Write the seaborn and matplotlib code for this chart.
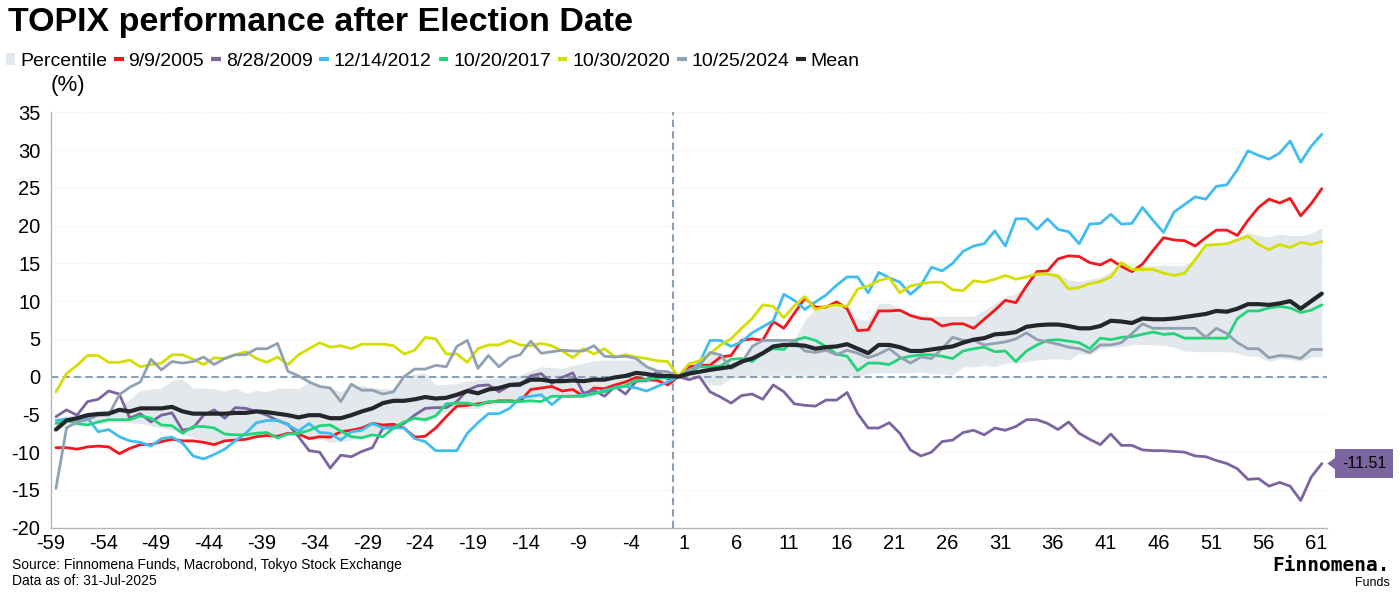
import numpy as np
import pandas as pd
import matplotlib
matplotlib.use('Agg')
import matplotlib.pyplot as plt
from matplotlib.lines import Line2D
from matplotlib.patches import Patch
import seaborn as sns

# 交易日（相對選舉日）
days = list(range(-59, 62))

# 各次選舉後 TOPIX 表現 (%)
s2005 = [-9.4, -9.4, -9.6, -9.3, -9.2, -9.3, -10.2, -9.5, -9.0, -9.0,
         -8.6, -8.3, -8.5, -8.5, -8.7, -9.0, -8.5, -8.4, -8.3, -7.95,
         -7.8, -7.9, -7.5, -7.6, -8.2, -7.95, -8.0, -7.3, -7.1,
         -6.8, -6.2, -6.4, -6.3, -6.8, -8.0, -7.9, -6.8, -5.3, -3.9,
         -3.8, -3.6, -3.4, -3.2, -3.2, -3.3, -1.7, -1.5, -1.3, -1.9,
         -1.7, -2.6, -1.5, -1.6, -1.1, -0.7, -0.1, -0.4, -0.5, -1.1,
         0.0,
         1.3, 1.5, 1.5, 2.6, 2.8, 4.8, 5.0, 4.8, 7.3, 6.4,
         8.4, 10.4, 9.2, 9.2, 9.9, 9.0, 6.1, 6.2, 8.7, 8.7,
         8.8, 8.1, 7.7, 7.6, 6.7, 7.0, 7.0, 6.4, 7.6, 8.8,
         10.1, 9.8, 12.0, 13.9, 14.0, 15.6, 16.0, 15.9, 15.1, 14.8,
         15.5, 14.6, 13.9, 14.9, 16.7, 18.4, 18.1, 18.0, 17.3, 18.4,
         19.4, 19.4, 18.7, 20.7, 22.4, 23.5, 23.0, 23.6, 21.3, 22.9, 24.9]

s2009 = [-5.3, -4.4, -5.1, -3.3, -3.0, -1.9, -2.3, -5.5, -4.9, -6.0,
         -5.1, -4.8, -7.1, -6.8, -5.1, -4.4, -5.5, -4.1, -4.2, -4.6,
         -5.1, -5.8, -6.3, -7.95, -9.8, -10.0, -12.1, -10.4, -10.6,
         -9.9, -9.4, -6.8, -6.6, -6.2, -5.1, -4.2, -4.1, -4.1, -3.3,
         -1.8, -1.2, -1.1, -2.0, -1.2, -1.2, 0.1, 0.4, -0.9, -0.1,
         0.5, -2.2, -1.8, -2.6, -1.3, -2.3, -0.6, -0.5, 0.65, -0.3,
         0.0,
         -0.4, 0.0, -2.0, -2.7, -3.5, -2.5, -2.3, -3.0, -1.1, -2.0,
         -3.6, -3.8, -3.9, -3.1, -3.1, -2.1, -4.9, -6.8, -6.8, -6.1,
         -7.5, -9.7, -10.5, -10.0, -8.6, -8.4, -7.4, -7.1, -7.7, -6.8,
         -7.1, -6.6, -5.7, -5.7, -6.2, -7.0, -6.0, -7.5, -8.3, -9.0,
         -7.6, -9.1, -9.1, -9.7, -9.8, -9.8, -9.9, -10.0, -10.5, -10.6,
         -11.1, -11.5, -12.2, -13.6, -13.5, -14.5, -14.0, -14.5, -16.4, -13.3, -11.51]

s2012 = [-5.8, -5.6, -5.7, -5.5, -7.3, -7.0, -7.95, -8.5, -8.7, -9.2,
         -8.2, -8.0, -8.8, -10.5, -10.9, -10.3, -9.6, -8.5, -7.5, -6.1,
         -5.8, -5.8, -6.4, -7.2, -6.2, -7.4, -7.5, -8.4, -7.3,
         -7.1, -6.2, -6.8, -6.8, -6.8, -8.2, -8.6, -9.8, -9.8, -9.8,
         -7.5, -6.1, -4.9, -4.9, -4.2, -2.8, -2.6, -2.4, -3.7, -2.6,
         -2.6, -2.4, -2.3, -1.8, -1.5, -1.3, -1.5, -1.9, -1.3, -0.7,
         0.0,
         0.6, 1.8, 4.8, 4.8, 4.0, 4.6, 5.8, 6.6, 7.4, 10.9,
         10.1, 8.9, 9.9, 10.8, 12.1, 13.2, 13.2, 11.1, 13.8, 13.1,
         12.5, 10.9, 12.1, 14.5, 14.0, 15.0, 16.6, 17.3, 17.6, 19.3,
         17.3, 20.9, 20.9, 19.5, 20.9, 19.5, 19.2, 17.6, 20.2, 20.3,
         21.5, 20.2, 20.3, 22.4, 20.7, 19.1, 21.8, 22.8, 23.8, 23.5,
         25.2, 25.4, 27.4, 29.9, 29.3, 28.8, 29.6, 31.2, 28.4, 30.5, 32.1]

s2017 = [-6.2, -5.8, -6.2, -6.4, -6.0, -5.7, -5.7, -5.7, -5.2, -5.5,
         -6.4, -6.5, -7.5, -6.6, -6.6, -6.8, -7.6, -7.7, -7.7, -7.5,
         -7.4, -8.1, -7.6, -7.5, -7.1, -6.5, -6.4, -7.2, -7.95,
         -8.1, -7.7, -7.95, -6.8, -6.0, -5.5, -5.7, -5.2, -3.6, -3.5,
         -3.5, -3.8, -3.3, -3.3, -3.3, -3.3, -3.2, -3.3, -2.6, -2.6,
         -2.6, -2.6, -2.2, -2.0, -1.4, -1.2, -0.5, -0.4, -0.2, -0.1,
         0.0,
         0.6, 1.3, 1.3, 1.4, 2.3, 2.4, 2.0, 3.1, 3.7, 3.6,
         4.8, 5.2, 4.8, 4.0, 3.0, 2.7, 0.8, 1.8, 1.8, 1.6,
         2.4, 2.7, 2.9, 2.9, 2.7, 2.4, 3.4, 3.7, 3.9, 3.3,
         3.4, 2.0, 3.4, 4.2, 4.8, 4.9, 4.7, 4.5, 3.7, 5.1,
         4.9, 5.2, 5.3, 5.6, 5.9, 5.6, 5.7, 5.1, 5.1, 5.1,
         5.1, 5.1, 7.7, 8.7, 8.7, 9.1, 9.3, 9.1, 8.5, 8.8, 9.5]

s2020 = [-2.0, 0.4, 1.5, 2.8, 2.8, 1.9, 1.9, 2.2, 1.3, 1.6,
         1.8, 2.9, 2.9, 2.3, 1.6, 2.5, 2.4, 2.9, 3.3, 2.4,
         1.9, 2.6, 1.6, 2.9, 3.7, 4.5, 3.9, 4.1, 3.7,
         4.3, 4.3, 4.3, 4.1, 3.0, 3.5, 5.2, 5.0, 3.0, 3.0,
         1.9, 3.7, 4.2, 4.2, 4.8, 4.2, 4.1, 4.4, 4.1, 3.4,
         2.5, 3.7, 3.0, 3.7, 2.6, 2.9, 2.6, 2.4, 2.1, 2.0,
         0.0,
         1.7, 2.1, 3.0, 4.2, 5.0, 6.4, 7.7, 9.5, 9.3, 7.8,
         9.4, 10.6, 8.9, 9.3, 9.5, 9.3, 11.6, 12.0, 12.7, 13.1,
         11.1, 12.0, 12.3, 12.5, 12.5, 11.5, 11.4, 12.7, 12.5, 12.9,
         13.4, 12.9, 13.2, 13.6, 13.6, 13.3, 11.6, 11.8, 12.3, 12.6,
         13.2, 15.1, 14.2, 14.2, 14.2, 13.7, 13.4, 13.7, 15.5, 17.4,
         17.5, 17.6, 18.1, 18.6, 17.5, 16.8, 17.5, 17.1, 17.8, 17.5, 17.9]

s2024 = [-14.8, -6.8, -6.0, -5.7, -5.1, -5.1, -2.4, -1.4, -0.7, 2.3,
         0.9, 2.0, 1.8, 2.0, 2.6, 1.6, 2.4, 2.9, 2.9, 3.7,
         3.7, 4.4, 0.7, 0.1, -0.7, -1.3, -1.5, -3.3, -1.0,
         -1.8, -1.8, -2.3, -2.0, 0.0, 1.0, 1.0, 1.5, 1.3, 4.0,
         4.8, 1.1, 2.8, 1.3, 2.5, 2.9, 4.7, 3.1, 3.3, 3.5,
         3.4, 3.4, 4.1, 2.7, 2.6, 2.7, 2.4, 1.3, 0.75, 0.65,
         0.0,
         0.9, 1.4, 3.2, 2.9, 1.1, 1.8, 4.0, 4.8, 4.8, 4.8,
         4.8, 3.4, 3.2, 3.5, 2.9, 3.5, 3.1, 2.5, 3.0, 3.7,
         2.6, 1.8, 2.6, 2.4, 3.7, 5.2, 4.8, 4.8, 4.2, 4.4,
         4.6, 5.0, 5.8, 4.9, 4.6, 4.3, 3.9, 3.7, 3.2, 4.2,
         4.2, 4.5, 5.7, 7.0, 6.4, 6.4, 6.4, 6.4, 6.4, 5.2,
         6.4, 5.7, 4.5, 3.7, 3.7, 2.5, 2.8, 2.7, 2.4, 3.6, 3.6]

mean = [-7.0, -5.8, -5.5, -5.1, -4.95, -4.9, -4.4, -4.6, -4.2, -4.2,
        -4.2, -4.0, -4.6, -4.9, -4.9, -4.9, -4.9, -4.8, -4.8, -4.6,
        -4.7, -4.9, -5.1, -5.4, -5.1, -5.1, -5.5, -5.5, -5.1,
        -4.6, -4.2, -3.5, -3.2, -3.2, -3.0, -2.7, -2.9, -2.8, -2.4,
        -1.9, -2.2, -1.7, -1.5, -1.1, -1.0, -0.4, -0.4, -0.6, -0.6,
        -0.5, -0.6, -0.4, -0.4, -0.1, 0.1, 0.5, 0.35, 0.1, 0.1,
        0.0,
        0.4, 0.65, 0.9, 1.1, 1.3, 2.0, 2.4, 3.1, 4.0, 4.2,
        4.2, 4.1, 3.7, 3.9, 4.0, 4.3, 3.7, 3.1, 4.2, 4.2,
        3.9, 3.4, 3.4, 3.6, 3.8, 4.0, 4.5, 4.9, 5.1, 5.6,
        5.7, 5.9, 6.6, 6.8, 6.9, 6.9, 6.7, 6.4, 6.4, 6.7,
        7.4, 7.3, 7.1, 7.7, 7.6, 7.6, 7.7, 7.9, 8.1, 8.3,
        8.7, 8.6, 9.0, 9.6, 9.6, 9.5, 9.7, 10.0, 9.0, 10.0, 11.0]

# Percentile 區間 (上緣 / 下緣)
pct_hi = [-5.5, -5.2, -5.0, -4.7, -4.5, -4.3, -4.0, -3.0, -1.8, -1.6,
          -1.5, -0.5, -0.3, -1.5, -1.5, -1.6, -1.9, -1.5, -2.2, -1.8,
          -2.0, -1.5, -1.5, -1.6, -0.7, -1.0, -1.5, -2.0, -1.2,
          -1.2, -1.4, -1.6, -1.6, -0.3, 0.3, 0.5, -1.1, -1.0, -0.9,
          -0.6, -0.4, -0.3, -0.2, 0.0, 0.2, 0.8, 1.3, 1.2, 1.1,
          1.5, 1.8, 2.1, 2.2, 2.2, 2.2, 2.2, 1.5, 0.9, 0.4,
          0.0,
          0.7, 0.9, 2.9, 3.2, 2.0, 2.2, 4.2, 4.9, 4.9, 4.8,
          4.9, 7.5, 9.0, 9.2, 9.3, 9.3, 7.5, 7.5, 9.7, 9.7,
          9.0, 8.4, 8.2, 8.0, 8.0, 8.0, 8.0, 8.0, 8.8, 9.7,
          10.6, 11.0, 11.9, 13.8, 13.8, 13.7, 12.8, 12.6, 12.9, 13.2,
          13.9, 14.6, 14.3, 14.7, 14.7, 14.8, 14.7, 14.8, 15.5, 17.4,
          17.5, 17.8, 18.3, 19.1, 18.7, 18.5, 18.9, 18.7, 18.7, 19.0, 19.7]

pct_lo = [-7.0, -6.6, -6.4, -6.3, -6.2, -6.1, -6.0, -6.1, -6.2, -6.5,
          -6.8, -7.0, -7.7, -8.0, -8.8, -9.0, -8.5, -8.2, -8.0, -7.8,
          -7.7, -7.8, -7.7, -7.8, -8.2, -8.2, -8.7, -8.6, -8.4,
          -8.0, -7.7, -7.3, -6.8, -6.2, -5.7, -6.2, -5.1, -4.6, -4.2,
          -4.2, -4.2, -3.8, -3.5, -3.4, -3.3, -3.0, -2.8, -2.7, -2.6,
          -2.5, -2.4, -2.1, -1.8, -1.5, -1.3, -1.0, -0.8, -0.6, -0.4,
          0.0,
          0.0, -0.2, -1.1, -1.1, -0.2, 0.0, 0.2, 0.2, 0.2, 0.2,
          0.2, 0.2, 0.2, 0.2, 0.2, 0.2, 0.0, 0.4, 0.5, 0.5,
          0.5, 0.5, 0.65, 0.4, 0.4, 0.2, 1.3, 1.3, 1.5, 1.3,
          1.8, 1.8, 2.0, 2.2, 2.3, 2.4, 2.2, 3.1, 2.9, 3.7,
          3.9, 4.0, 4.2, 4.3, 4.2, 4.1, 3.9, 3.4, 3.3, 3.3,
          3.3, 3.3, 3.1, 2.7, 2.7, 2.0, 2.4, 2.3, 2.0, 2.6, 2.6]

labels = ['9/9/2005', '8/28/2009', '12/14/2012', '10/20/2017', '10/30/2020', '10/25/2024']
colors = ['#f7161b', '#7b64a0', '#3fbdf0', '#22d47a', '#d4de00', '#8fa1b3']
mean_color = '#23272b'
band_color = '#e3e8ec'
zero_color = '#8a9fb3'
label_color = '#7b64a0'

df = pd.DataFrame({'day': days * 6,
                   'value': s2005 + s2009 + s2012 + s2017 + s2020 + s2024,
                   'series': np.repeat(labels, len(days))})

sns.set_style('white', rc={'text.color': 'black', 'xtick.color': 'black',
                           'ytick.color': 'black', 'axes.labelcolor': 'black'})
plt.rcParams['font.family'] = ['Liberation Sans', 'DejaVu Sans']
plt.rcParams['axes.unicode_minus'] = False

fig = plt.figure(figsize=(14, 6), dpi=100)
ax = fig.add_axes([0.0362, 0.1205, 0.9117, 0.6923])

ax.fill_between(days, pct_lo, pct_hi, color=band_color, lw=0, zorder=1)
ax.axhline(0, color=zero_color, ls=(0, (3.5, 2)), lw=1.5, zorder=2)
ax.axvline(-0.5, color=zero_color, ls=(0, (3.5, 2)), lw=1.5, zorder=2)

sns.lineplot(data=df, x='day', y='value', hue='series', hue_order=labels,
             palette=colors, linewidth=2, legend=False, ax=ax, zorder=3)
sns.lineplot(x=days, y=mean, color=mean_color, linewidth=3, ax=ax, zorder=4)

# 最後一點標籤
ax.annotate(f'{s2009[-1]:.2f}', xy=(days[-1], s2009[-1]), xytext=(30.5, 0),
            textcoords='offset points', ha='center', va='center', fontsize=11.5,
            color='black', annotation_clip=False,
            bbox=dict(boxstyle='square,pad=0.42', fc=label_color, ec='none'),
            arrowprops=dict(arrowstyle='wedge,tail_width=0.75,shrink_factor=0.5',
                            fc=label_color, ec='none', shrinkA=0, shrinkB=4))

ax.set_xlim(-59.5, 61.5)
ax.set_ylim(-20, 35)
xt = list(range(-59, 62, 5))
ax.set_xticks([t - 0.5 for t in xt])
ax.set_xticklabels([str(t) for t in xt])
ax.set_yticks(range(-20, 36, 5))
ax.set_xlabel('')
ax.set_ylabel('')
ax.yaxis.grid(True, color='#ececec', ls=(0, (2, 2)), lw=0.6)
ax.set_axisbelow(True)
for s in ['top', 'right']:
    ax.spines[s].set_visible(False)
for s in ['left', 'bottom']:
    ax.spines[s].set_color('#b5b5b5')
    ax.spines[s].set_linewidth(1)
ax.tick_params(axis='x', direction='inout', length=6, color='#b5b5b5', labelsize=14.5, pad=1.5)
ax.tick_params(axis='y', direction='out', length=4, color='#b5b5b5', labelsize=14.5, pad=3.5)

# 標題與圖例
fig.text(0.006, 0.963, 'TOPIX performance after Election Date', fontsize=24.5,
         fontweight='bold', va='center', ha='left')
handles = [Patch(fc=band_color, ec='none')]
handles += [Line2D([], [], color=c, lw=3, solid_capstyle='butt') for c in colors]
handles += [Line2D([], [], color=mean_color, lw=3, solid_capstyle='butt')]
fig.legend(handles, ['Percentile'] + labels + ['Mean'], loc='center left',
           bbox_to_anchor=(0.004, 0.898), ncol=8, frameon=False, fontsize=14,
           handlelength=0.5, handleheight=0.55, handletextpad=0.25,
           columnspacing=0.35, borderpad=0, borderaxespad=0)
fig.text(0.036, 0.858, '(%)', fontsize=16, va='center', ha='left')

fig.text(0.0086, 0.058, 'Source: Finnomena Funds, Macrobond, Tokyo Stock Exchange',
         fontsize=10, va='center', ha='left')
fig.text(0.0086, 0.031, 'Data as of: 31-Jul-2025', fontsize=10, va='center', ha='left')
fig.text(0.993, 0.058, 'Finnomena.', family='DejaVu Sans Mono', fontweight='bold',
         fontsize=14, va='center', ha='right')
fig.text(0.993, 0.028, 'Funds', fontsize=9, va='center', ha='right')

plt.savefig('out.png', dpi=100)
